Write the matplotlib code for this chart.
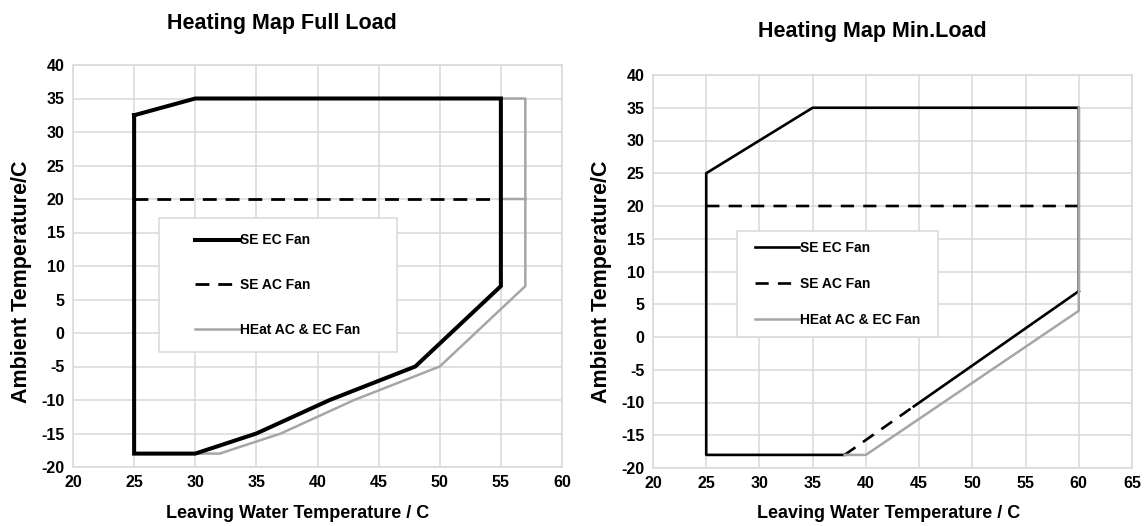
import numpy as np
import matplotlib
matplotlib.use("Agg")
import matplotlib.pyplot as plt
from matplotlib.patches import Rectangle

plt.rcParams['font.family'] = ['Liberation Sans', 'DejaVu Sans']
plt.rcParams['font.weight'] = 'bold'
plt.rcParams['axes.unicode_minus'] = False

# ---------------- data: Full Load ----------------
full_ec_x = [25, 30, 55, 55, 48, 41, 35, 30, 25, 25]
full_ec_y = [32.5, 35, 35, 7, -5, -10, -15, -18, -18, 32.5]
full_ac_x = [25, 55]
full_ac_y = [20, 20]
full_heat_x = [30, 32, 37, 43, 50, 57, 57, 55, np.nan, 55, 57]
full_heat_y = [-18, -18, -15, -10, -5, 7, 35, 35, np.nan, 20, 20]

# ---------------- data: Min Load ----------------
min_ec_x = [60, 44.5, np.nan, 38, 25, 25, 35, 60, 60]
min_ec_y = [7, -10.6, np.nan, -18, -18, 25, 35, 35, 7]
min_ac_x = [25, 60, np.nan, 38, 44.5]
min_ac_y = [20, 20, np.nan, -18, -10.6]
min_heat_x = [38, 40, 60, 60]
min_heat_y = [-18, -18, 4, 35]

labels = ['SE EC Fan', 'SE AC Fan', 'HEat AC & EC Fan']
GRID = '#d9d9d9'
GREY = '#a6a6a6'

W, H = 1148, 526
fig = plt.figure(figsize=(W / 100, H / 100), dpi=100)


def px_axes(x0, y0, x1, y1):
    return fig.add_axes([x0 / W, 1 - y1 / H, (x1 - x0) / W, (y1 - y0) / H])


def style_axes(ax, xmax):
    ax.set_xlim(20, xmax)
    ax.set_ylim(-20, 40)
    ax.set_xticks(np.arange(20, xmax + 1, 5))
    ax.set_yticks(np.arange(-20, 41, 5))
    ax.grid(True, color=GRID, lw=1.1)
    ax.set_axisbelow(True)
    for s in ax.spines.values():
        s.set_color(GRID)
        s.set_linewidth(1.1)
    ax.tick_params(length=0, labelsize=11.5, pad=6)
    for t in ax.get_xticklabels() + ax.get_yticklabels():
        t.set_fontweight('bold')


def add_legend(ax, handles, box, fs, spacing):
    # box: left, top, right, bottom in pixels
    bx0, by0, bx1, by1 = box
    ax.add_patch(Rectangle((bx0 / W, 1 - by1 / H), (bx1 - bx0) / W, (by1 - by0) / H,
                           transform=fig.transFigure, facecolor='white',
                           edgecolor=GRID, lw=1.1, zorder=4, clip_on=False))
    leg = ax.legend(handles, labels, loc='center', frameon=False,
                    bbox_to_anchor=(((bx0 + bx1) / 2) / W, 1 - ((by0 + by1) / 2) / H),
                    bbox_transform=fig.transFigure,
                    prop={'weight': 'bold', 'size': fs},
                    handlelength=3.2, handletextpad=0.05, labelspacing=spacing)
    leg.set_zorder(5)


# ---------------- left chart ----------------
ax1 = px_axes(73, 65, 562, 467)
style_axes(ax1, 60)
h3, = ax1.plot(full_heat_x, full_heat_y, color=GREY, lw=1.8, zorder=2)
h1, = ax1.plot(full_ec_x, full_ec_y, color='black', lw=2.9, zorder=3, solid_joinstyle='miter')
h2, = ax1.plot(full_ac_x, full_ac_y, color='black', lw=2.0, dashes=(5, 3.2), zorder=3)
add_legend(ax1, [h1, h2, h3], (159, 218, 397, 352), 10, 2.2)

# ---------------- right chart ----------------
ax2 = px_axes(653, 75, 1132, 468)
style_axes(ax2, 65)
g1, = ax2.plot(min_ec_x, min_ec_y, color='black', lw=1.9, zorder=2)
g2, = ax2.plot(min_ac_x, min_ac_y, color='black', lw=1.9, dashes=(5, 3.5), zorder=2)
g3, = ax2.plot(min_heat_x, min_heat_y, color=GREY, lw=1.8, zorder=3)
add_legend(ax2, [g1, g2, g3], (737, 231, 938, 337), 10, 1.6)

# ---------------- titles and axis labels ----------------
fig.text(282 / W, 1 - 23 / H, 'Heating Map Full Load', ha='center', va='center',
         fontsize=15.5, fontweight='bold')
fig.text(872 / W, 1 - 32 / H, 'Heating Map Min.Load', ha='center', va='center',
         fontsize=15.5, fontweight='bold')
fig.text(22 / W, 1 - 282 / H, 'Ambient Temperature/C', rotation=90, ha='center',
         va='center', fontsize=15.5, fontweight='bold')
fig.text(602 / W, 1 - 282 / H, 'Ambient Temperature/C', rotation=90, ha='center',
         va='center', fontsize=15.5, fontweight='bold')
fig.text(298 / W, 1 - 513 / H, 'Leaving Water Temperature / C', ha='center',
         va='center', fontsize=13, fontweight='bold')
fig.text(889 / W, 1 - 513 / H, 'Leaving Water Temperature / C', ha='center',
         va='center', fontsize=13, fontweight='bold')

fig.savefig('out.png', dpi=100)
